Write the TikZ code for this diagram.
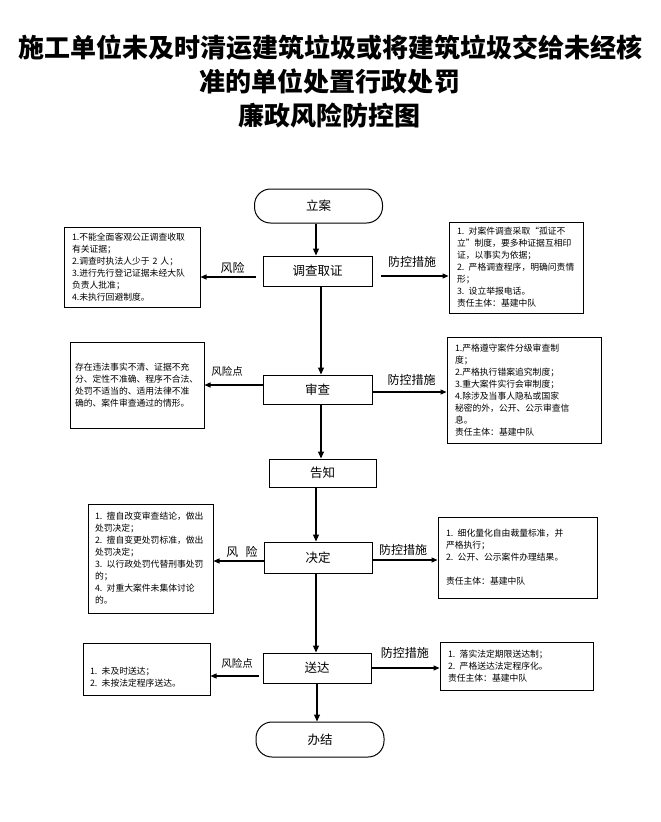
\documentclass[tikz,border=0pt]{standalone}
\usepackage{fontspec}
\setmainfont{Noto Sans CJK SC}
\usetikzlibrary{arrows.meta}
\begin{document}
\begin{tikzpicture}[x=1pt,y=-1pt,
  flow/.style={draw,line width=1pt,font=\fontsize{12.5}{15}\selectfont,inner sep=0pt},
  term/.style={flow,rounded corners=16pt},
  side/.style={draw,line width=1pt,font=\fontsize{8.8}{12}\selectfont,align=left,inner xsep=8pt,inner ysep=0pt},
  arr/.style={line width=1.2pt,-{Triangle[length=7pt,width=6pt]}},
  sarr/.style={line width=1.1pt,-{Triangle[length=6pt,width=5pt]}},
  lab/.style={font=\fontsize{12}{14}\selectfont,inner sep=0pt},
  labs/.style={font=\fontsize{10.5}{12}\selectfont,inner sep=0pt}]
\fill[white] (0,0) rectangle (661,822);
\useasboundingbox (0,0) rectangle (661,822);

% title
\node[font=\fontsize{26}{34}\selectfont\bfseries,align=center] (title) at (330,81)
  {施工单位未及时清运建筑垃圾或将建筑垃圾交给未经核\\准的单位处置行政处罚\\廉政风险防控图};

% flow nodes
\node[term,minimum width=128pt,minimum height=34pt] (start) at (318.5,206) {立案};
\node[flow,minimum width=109pt,minimum height=30pt] (dc) at (317.5,271) {调查取证};
\node[flow,minimum width=109pt,minimum height=29pt] (sc) at (317.5,389.5) {审查};
\node[flow,minimum width=107pt,minimum height=28pt] (gz) at (322.5,473) {告知};
\node[flow,minimum width=108pt,minimum height=31pt] (jd) at (318,557.5) {决定};
\node[flow,minimum width=108pt,minimum height=30pt] (sd) at (317,668) {送达};
\node[term,minimum width=128pt,minimum height=35pt] (bj) at (320,739.5) {办结};

% side boxes
\node[side,text width=120pt,minimum height=80pt] (l1) at (132,267)
  {1.不能全面客观公正调查收取\\有关证据；\\2.调查时执法人少于 2 人；\\3.进行先行登记证据未经大队\\负责人批准；\\4.未执行回避制度。};
\node[side,text width=118pt,minimum height=91pt] (r1) at (516,267.5)
  {1. 对案件调查采取“孤证不\\立”制度，要多种证据互相印\\证，以事实为依据；\\2. 严格调查程序，明确问责情\\形；\\3. 设立举报电话。\\责任主体：基建中队};
\node[side,inner xsep=5pt,text width=124pt,minimum height=86pt] (l2) at (137,385)
  {存在违法事实不清、证据不充\\分、定性不准确、程序不合法、\\处罚不适当的、适用法律不准\\确的、案件审查通过的情形。};
\node[side,text width=138pt,minimum height=106pt] (r2) at (524,390)
  {1.严格遵守案件分级审查制\\度；\\2.严格执行错案追究制度；\\3.重大案件实行会审制度；\\4.除涉及当事人隐私或国家\\秘密的外，公开、公示审查信\\息。\\责任主体：基建中队};
\node[side,inner xsep=7pt,text width=111pt,minimum height=109pt] (l3) at (150.5,558.5)
  {1. 擅自改变审查结论，做出\\处罚决定；\\2. 擅自变更处罚标准，做出\\处罚决定；\\3. 以行政处罚代替刑事处罚\\的；\\4. 对重大案件未集体讨论\\的。};
\node[side,text width=143pt,minimum height=81pt] (r3) at (517.5,557.5)
  {1. 细化量化自由裁量标准，并\\严格执行；\\2. 公开、公示案件办理结果。\\[12pt]责任主体：基建中队};
\node[side,inner xsep=7pt,text width=113pt,minimum height=52pt] (l4) at (146.5,669)
  {\rule{0pt}{23pt}1. 未及时送达；\\2. 未按法定程序送达。};
\node[side,text width=137pt,minimum height=48pt] (r4) at (516.5,666)
  {1. 落实法定期限送达制；\\2. 严格送达法定程序化。\\责任主体：基建中队};

% main flow arrows
\draw[arr] (start.south -| 316,0) -- (dc.north -| 316,0);
\draw[arr] (dc.south -| 321,0) -- (sc.north -| 321,0);
\draw[arr] (sc.south -| 321,0) -- (gz.north -| 321,0);
\draw[arr] (gz.south -| 316,0) -- (jd.north -| 316,0);
\draw[arr] (jd.south -| 316,0) -- (sd.north -| 316,0);
\draw[arr] (sd.south -| 317,0) -- (bj.north -| 317,0);

% side arrows
\draw[sarr,shorten <=7pt] (dc.west |- 0,277) -- node[lab,pos=0.48,yshift=9pt]{风险} (l1.east |- 0,277);
\draw[sarr,shorten <=8pt] (dc.east |- 0,276) -- node[lab,pos=0.52,yshift=14pt]{防控措施} (r1.west |- 0,276);
\draw[sarr] (sc.west |- 0,385) -- node[labs,pos=0.61,yshift=14pt]{风险点} (l2.east |- 0,385);
\draw[sarr] (sc.east |- 0,392) -- node[lab,pos=0.53,yshift=12pt]{防控措施} (r2.west |- 0,392);
\draw[sarr] (jd.west |- 0,561) -- node[lab,pos=0.43,yshift=9pt]{风\hspace{0.6em}险} (l3.east |- 0,561);
\draw[sarr] (jd.east |- 0,560) -- node[lab,pos=0.47,yshift=10pt]{防控措施} (r3.west |- 0,560);
\draw[sarr,shorten <=4pt] (sd.west |- 0,676) -- node[labs,pos=0.49,yshift=13pt]{风险点} (l4.east |- 0,676);
\draw[sarr] (sd.east |- 0,668) -- node[lab,pos=0.49,yshift=15pt]{防控措施} (r4.west |- 0,668);
\end{tikzpicture}
\end{document}
